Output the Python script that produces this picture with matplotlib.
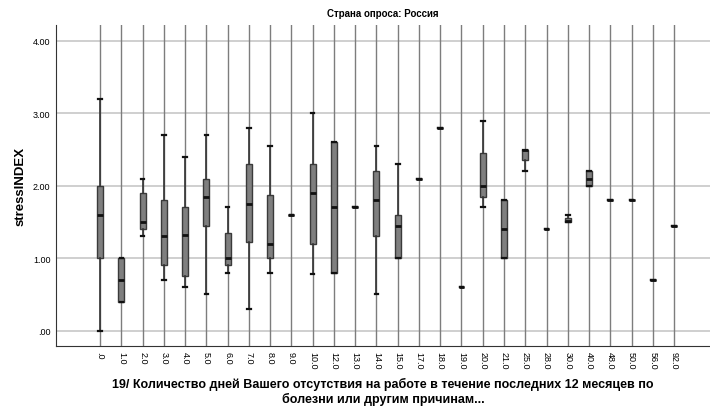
import matplotlib
matplotlib.use("Agg")
import matplotlib.pyplot as plt  # plotting
import numpy as np  # positions

plt.rcParams["font.family"] = ["Liberation Sans", "DejaVu Sans"]

# Categories: days of absence
cats = [".0", "1.0", "2.0", "3.0", "4.0", "5.0", "6.0", "7.0", "8.0", "9.0", "10.0", "12.0", "13.0", "14.0",
        "15.0", "17.0", "18.0", "19.0", "20.0", "21.0", "25.0", "28.0", "30.0", "40.0", "48.0", "50.0", "56.0", "92.0"]

# Box statistics of stressINDEX per category
whislo = [0.00, 0.40, 1.30, 0.70, 0.60, 0.50, 0.80, 0.30, 0.80, 1.60, 0.78, 0.80, 1.70, 0.50,
          1.00, 2.10, 2.80, 0.60, 1.70, 1.00, 2.20, 1.40, 1.50, 2.00, 1.80, 1.80, 0.70, 1.45]
q1 = [1.00, 0.40, 1.40, 0.90, 0.75, 1.45, 0.90, 1.22, 1.00, 1.60, 1.20, 0.80, 1.70, 1.30,
      1.00, 2.10, 2.80, 0.60, 1.85, 1.00, 2.35, 1.40, 1.50, 2.00, 1.80, 1.80, 0.70, 1.45]
med = [1.60, 0.70, 1.50, 1.30, 1.32, 1.85, 1.00, 1.75, 1.20, 1.60, 1.90, 1.70, 1.70, 1.80,
       1.45, 2.10, 2.80, 0.60, 2.00, 1.40, 2.50, 1.40, 1.52, 2.10, 1.80, 1.80, 0.70, 1.45]
q3 = [2.00, 1.00, 1.90, 1.80, 1.70, 2.10, 1.35, 2.30, 1.87, 1.60, 2.30, 2.60, 1.70, 2.20,
      1.60, 2.10, 2.80, 0.60, 2.45, 1.80, 2.50, 1.40, 1.55, 2.20, 1.80, 1.80, 0.70, 1.45]
whishi = [3.20, 1.00, 2.10, 2.70, 2.40, 2.70, 1.70, 2.80, 2.55, 1.60, 3.00, 2.60, 1.70, 2.55,
          2.30, 2.10, 2.80, 0.60, 2.90, 1.80, 2.50, 1.40, 1.60, 2.20, 1.80, 1.80, 0.70, 1.45]

yticks = [0, 1, 2, 3, 4]
ylabels = [".00", "1.00", "2.00", "3.00", "4.00"]

stats = [dict(whislo=a, q1=b, med=c, q3=d, whishi=e, fliers=[])
         for a, b, c, d, e in zip(whislo, q1, med, q3, whishi)]
pos = np.arange(len(cats))

fig = plt.figure(figsize=(7.1, 4.1), dpi=100)
ax = fig.add_axes([0.079, 0.154, 0.921, 0.783])

ax.bxp(stats, positions=pos, widths=0.28, capwidths=0.17, patch_artist=True,
       boxprops=dict(facecolor="#7f7f7f", edgecolor="#3a3a3a", linewidth=1.0),
       medianprops=dict(color="#111111", linewidth=2.0),
       whiskerprops=dict(color="#333333", linewidth=1.2),
       capprops=dict(color="#111111", linewidth=1.6),
       zorder=3)

# horizontal grid and a vertical line through every category
for y in yticks:
    ax.axhline(y, color="#cfcfcf", linewidth=1.4, zorder=1)
for x in pos:
    ax.axvline(x, color="#7d7d7d", linewidth=1.0, zorder=2)

ax.set_xlim(-2.07, 28.69)
ax.set_ylim(-0.211, 4.222)
ax.set_xticks(pos)
ax.set_xticklabels(cats, rotation=270, fontsize=6.5)
ax.set_yticks(yticks)
ax.set_yticklabels(ylabels, fontsize=6.5)
ax.tick_params(length=0, pad=4)
ax.spines["top"].set_visible(False)
ax.spines["right"].set_visible(False)
ax.spines["left"].set_color("#333333")
ax.spines["bottom"].set_color("#333333")

ax.set_title("Страна опроса: Россия", fontsize=7, fontweight="bold", pad=6)
ax.set_ylabel("stressINDEX", fontsize=9.5, fontweight="bold", labelpad=5)
ax.set_xlabel("19/ Количество дней Вашего отсутствия на работе в течение последних 12 месяцев по\n"
              "болезни или другим причинам...", fontsize=9, fontweight="bold", labelpad=6,
              linespacing=1.2)

fig.savefig("out.png", dpi=100)
